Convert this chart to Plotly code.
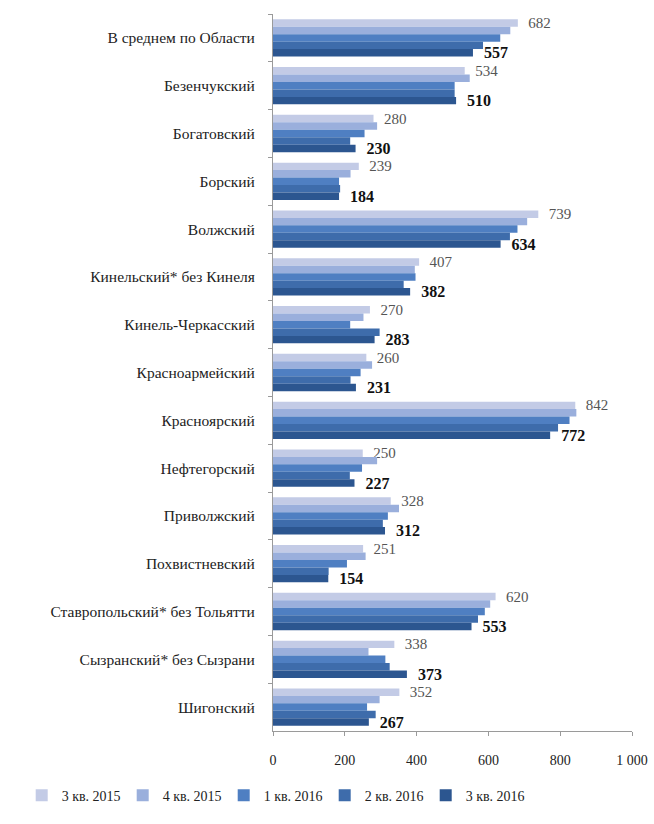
import plotly.graph_objects as go

categories = ["В среднем по Области", "Безенчукский", "Богатовский", "Борский", "Волжский",
              "Кинельский* без Кинеля", "Кинель-Черкасский", "Красноармейский", "Красноярский",
              "Нефтегорский", "Приволжский", "Похвистневский", "Ставропольский* без Тольятти",
              "Сызранский* без Сызрани", "Шигонский"]

series_names = ["3 кв. 2015", "4 кв. 2015", "1 кв. 2016", "2 кв. 2016", "3 кв. 2016"]

q3_2015 = [682, 534, 280, 239, 739, 407, 270, 260, 842, 250, 328, 251, 620, 338, 352]
q4_2015 = [661, 548, 290, 216, 708, 395, 252, 276, 845, 290, 351, 258, 605, 266, 297]
q1_2016 = [633, 506, 255, 184, 681, 397, 215, 244, 826, 248, 320, 206, 590, 313, 262]
q2_2016 = [585, 506, 215, 187, 660, 364, 297, 216, 794, 214, 306, 155, 571, 325, 286]
q3_2016 = [557, 510, 230, 184, 634, 382, 283, 231, 772, 227, 312, 154, 553, 373, 267]

tick_vals = [0, 200, 400, 600, 800, 1000]
tick_text = ["0", "200", "400", "600", "800", "1 000"]

colors = ["#c3cbe6", "#9aafdc", "#4f7fc2", "#3e6cab", "#2c5690"]
all_series = [q3_2015, q4_2015, q1_2016, q2_2016, q3_2016]

serif = "Liberation Serif"
pad = "\u00a0\u00a0"
fig = go.Figure()
for i, (name, vals) in enumerate(zip(series_names, all_series)):
    kw = {}
    if i == 0:
        kw = dict(text=[pad + str(v) for v in vals], textposition="outside",
                  textfont=dict(family=serif, size=15, color="#555555"))
    elif i == 4:
        kw = dict(text=[pad + "<b>%d</b>" % v for v in vals], textposition="outside",
                  textfont=dict(family=serif, size=16, color="#111111"))
    fig.add_trace(go.Bar(y=categories, x=vals, name=name, orientation="h",
                         marker=dict(color=colors[i], line=dict(width=0)),
                         cliponaxis=False, constraintext="none", **kw))

fig.update_layout(
    width=654, height=824,
    barmode="group", bargap=0.22, bargroupgap=0,
    plot_bgcolor="white", paper_bgcolor="white",
    margin=dict(l=273, r=22, t=14, b=87),
    font=dict(family=serif, size=14, color="#222222"),
    xaxis=dict(range=[0, 1000], tickvals=tick_vals, ticktext=tick_text,
               showgrid=False, zeroline=False, showline=True, linecolor="#9a9a9a",
               ticks="outside", ticklen=4, tickcolor="#9a9a9a", automargin=False,
               ticklabelstandoff=12,
               tickfont=dict(family=serif, size=14, color="#222222")),
    yaxis=dict(autorange="reversed", showgrid=False, showline=True, linecolor="#9a9a9a",
               ticks="outside", ticklen=4, tickcolor="#9a9a9a", tickson="boundaries",
               automargin=False, ticklabelstandoff=14,
               tickfont=dict(family=serif, size=15.5, color="#222222")),
    legend=dict(orientation="h", x=-0.70, xanchor="left", y=-0.09, yanchor="middle",
                entrywidth=56, traceorder="normal", itemwidth=30,
                font=dict(family=serif, size=14, color="#222222")),
)

fig.write_html("out.html", config={"displayModeBar": False},
               post_script="document.body.style.margin='0';window.dispatchEvent(new Event('resize'));")
